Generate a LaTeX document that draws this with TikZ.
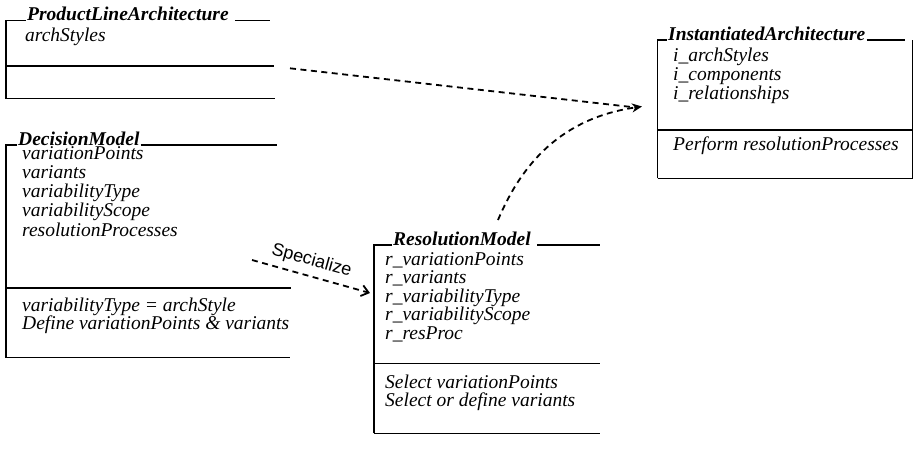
\documentclass[tikz,border=0pt]{standalone}
\usepackage{fontspec}
\setmainfont{Liberation Serif}
\setsansfont{Liberation Sans}
\usetikzlibrary{arrows.meta}
\begin{document}
\begin{tikzpicture}[x=1pt,y=-1pt,
  rule/.style={line width=1.3pt},
  ctitle/.style={anchor=base west,inner sep=0pt,font=\fontsize{19.5}{19.5}\selectfont\bfseries\itshape},
  citem/.style={anchor=base west,inner sep=0pt,font=\fontsize{19.5}{19.5}\selectfont\itshape},
  dep/.style={line width=1.8pt,dash pattern=on 6pt off 4.5pt},
  specarrow/.style={dep,-{Straight Barb[length=7pt,width=11pt,line width=1.8pt]}},
  realarrow/.style={dep,-{Stealth[length=10pt,width=9pt]}},
  deplabel/.style={font=\sffamily\fontsize{18}{18}\selectfont,inner sep=0pt}]
\useasboundingbox (0,0) rectangle (914,453);

% ---- ProductLineArchitecture ----
\node[ctitle] (plaT) at (27,20.7) {ProductLineArchitecture};
\node[citem] (pla1) at (25,41.7) {archStyles};
\draw[rule] (6,98.7) -- (6,20.7) -- ([xshift=-1pt]plaT.base west);
\draw[rule] ([xshift=6pt]plaT.base east) -- (270,20.7);
\draw[rule] (6,66) -- (274,66);
\draw[rule] (6,98.7) -- (275,98.7);
\coordinate (plaOut) at (290,68.3);

% ---- DecisionModel ----
\node[ctitle] (dmT) at (18,145) {DecisionModel};
\node[citem] (dm1) at (22,159) {variationPoints};
\node[citem] (dm2) at (22,178.3) {variants};
\node[citem] (dm3) at (22,197.6) {variabilityType};
\node[citem] (dm4) at (22,216.9) {variabilityScope};
\node[citem] (dm5) at (22,236.2) {resolutionProcesses};
\node[citem] (dm6) at (22,311.7) {variabilityType = archStyle};
\node[citem] (dm7) at (22,329.7) {Define variationPoints \& variants};
\draw[rule] (6,357.7) -- (6,145) -- ([xshift=-1pt]dmT.base west);
\draw[rule] ([xshift=1pt]dmT.base east) -- (277,145);
\draw[rule] (6,288) -- (291,288);
\draw[rule] (6,357.7) -- (290,357.7);
\coordinate (dmOut) at (252,260);

% ---- ResolutionModel ----
\node[ctitle] (rmT) at (393,245) {ResolutionModel};
\node[citem] (rm1) at (385,265) {r\_variationPoints};
\node[citem] (rm2) at (385,283.6) {r\_variants};
\node[citem] (rm3) at (385,302.2) {r\_variabilityType};
\node[citem] (rm4) at (385,320.8) {r\_variabilityScope};
\node[citem] (rm5) at (385,339.4) {r\_resProc};
\node[citem] (rm6) at (385,388) {Select variationPoints};
\node[citem] (rm7) at (385,406.7) {Select or define variants};
\draw[rule] (374,433.3) -- (374,245) -- ([xshift=-1pt]rmT.base west);
\draw[rule] ([xshift=6pt]rmT.base east) -- (600,245);
\draw[rule] (374,363.3) -- (600,363.3);
\draw[rule] (374,433.3) -- (600,433.3);
\coordinate (rmIn) at (370,293);
\coordinate (rmOut) at (498,220);

% ---- InstantiatedArchitecture ----
\node[ctitle] (iaT) at (668,40) {InstantiatedArchitecture};
\node[citem] (ia1) at (673,61.7) {i\_archStyles};
\node[citem] (ia2) at (673,80.5) {i\_components};
\node[citem] (ia3) at (673,99.3) {i\_relationships};
\node[citem] (ia4) at (673,150) {Perform resolutionProcesses};
\draw[rule] (657.7,178.3) -- (657.7,40) -- ([xshift=-1pt]iaT.base west);
\draw[rule] ([xshift=1pt]iaT.base east) -- (905,40);
\draw[rule] (912.7,40) -- (912.7,178.3);
\draw[rule] (657.7,130) -- (912.7,130);
\draw[rule] (657.7,178.3) -- (912.7,178.3);
\coordinate (iaIn) at (642,106.5);

% ---- dependencies ----
\draw[dep] (plaOut) -- ([xshift=-6pt,yshift=-1pt]iaIn);
\draw[realarrow] (rmOut) .. controls (522,163) and (562,118) .. (iaIn);
\draw[specarrow] (dmOut) -- (rmIn)
  node[deplabel,pos=0.47,sloped,above=6pt] (spec) {Specialize};
\end{tikzpicture}
\end{document}
